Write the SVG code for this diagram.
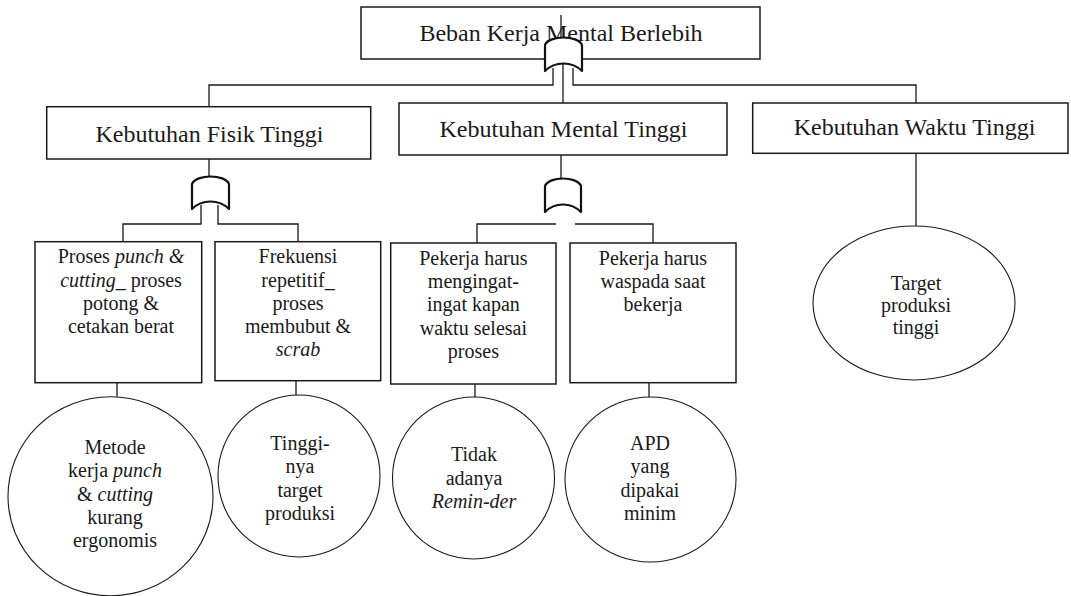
<svg xmlns="http://www.w3.org/2000/svg" width="1071" height="596" viewBox="0 0 1071 596" font-family="Liberation Serif, Tinos, Times New Roman, DejaVu Serif, Noto Serif, serif">
<style>
.box{fill:#fff;stroke:#1a1a1a;stroke-width:1.5}
.circ{fill:#fff;stroke:#1a1a1a;stroke-width:1.1}
.gate{fill:#fff;stroke:#111;stroke-width:2.2;stroke-linejoin:round}
.ln{fill:none;stroke:#1a1a1a;stroke-width:1.3}
.h{font-size:24px;fill:#1a1a1a;text-anchor:middle}
.t{font-size:20px;fill:#1a1a1a;text-anchor:middle}
.i{font-style:italic}
</style>
<rect width="1071" height="596" fill="#fff"/>
<g id="connectors">
<path class="ln" d="M561,15 V40"/>
<path class="ln" d="M563,64 V103"/>
<path class="ln" d="M553,68 V85 H209 V106.7"/>
<path class="ln" d="M573,68 V85 H916 V103"/>
<path class="ln" d="M209,159 V180"/>
<path class="ln" d="M201,205 V224 H123 V241.7"/>
<path class="ln" d="M218,205 V224 H298 V241.7"/>
<path class="ln" d="M561,155 V181"/>
<path class="ln" d="M556,224 H477 V243"/>
<path class="ln" d="M575,224 H653 V243"/>
<path class="ln" d="M117,382.7 V396.8"/>
<path class="ln" d="M296,380.7 V395.2"/>
<path class="ln" d="M475,384 V397.1"/>
<path class="ln" d="M649,382.7 V397"/>
<path class="ln" d="M916,153.3 V226.1"/>
</g>
<g id="n-title">
<rect class="box" x="361" y="7" width="399" height="52"/>
<text class="h" x="561" y="40.7">Beban Kerja Mental Berlebih</text>
</g>
<g id="gate-top">
<path class="gate" d="M545,71 V45 C549,35 578,35 582,45 V71 C572,61 555,61 545,71 Z"/>
<path class="ln" d="M561,37 V15"/>
</g>
<g id="n-fisik">
<rect class="box" x="46.7" y="106.7" width="324" height="52.3"/>
<text class="h" x="209.5" y="141.7">Kebutuhan Fisik Tinggi</text>
</g>
<g id="n-mental">
<rect class="box" x="399" y="103" width="328" height="52"/>
<text class="h" x="563.5" y="136.7">Kebutuhan Mental Tinggi</text>
</g>
<g id="n-waktu">
<rect class="box" x="752.7" y="103" width="315.3" height="50.3"/>
<text class="h" x="914.5" y="135">Kebutuhan Waktu Tinggi</text>
</g>
<g id="gate-fisik">
<path class="gate" d="M192,209 V184 C196,174 225,174 229,184 V209 C219,199 202,199 192,209 Z"/>
</g>
<g id="gate-mental">
<path class="gate" d="M545,212 V186 C549,176 577,176 581,186 V212 C571,202 555,202 545,212 Z"/>
</g>
<g id="n-box1">
<rect class="box" x="35" y="241.7" width="166.7" height="141"/>
<text class="t" x="121" y="263.3">Proses <tspan class="i">punch &amp;</tspan></text>
<text class="t" x="121" y="286.5"><tspan class="i">cutting</tspan>_ proses</text>
<text class="t" x="121" y="309.7">potong &amp;</text>
<text class="t" x="121" y="332.5">cetakan berat</text>
</g>
<g id="n-box2">
<rect class="box" x="215" y="241.7" width="165.7" height="139"/>
<text class="t" x="298" y="263.3">Frekuensi</text>
<text class="t" x="298" y="286.5">repetitif_</text>
<text class="t" x="298" y="309.7">proses</text>
<text class="t" x="298" y="332.9">membubut &amp;</text>
<text class="t i" x="298" y="356">scrab</text>
</g>
<g id="n-box3">
<rect class="box" x="390.7" y="243" width="165.3" height="141"/>
<text class="t" x="473.4" y="265">Pekerja harus</text>
<text class="t" x="473.4" y="288.2">mengingat-</text>
<text class="t" x="473.4" y="311.4">ingat kapan</text>
<text class="t" x="473.4" y="334.6">waktu selesai</text>
<text class="t" x="473.4" y="357.8">proses</text>
</g>
<g id="n-box4">
<rect class="box" x="570" y="243" width="166" height="139.7"/>
<text class="t" x="653" y="265">Pekerja harus</text>
<text class="t" x="653" y="288.2">waspada saat</text>
<text class="t" x="653" y="311.4">bekerja</text>
</g>
<g id="n-circ1">
<ellipse class="circ" cx="110.5" cy="496.3" rx="102.5" ry="99.5"/>
<text class="t" x="115" y="454">Metode</text>
<text class="t" x="115" y="477">kerja <tspan class="i">punch</tspan></text>
<text class="t" x="115" y="500.5">&amp; <tspan class="i">cutting</tspan></text>
<text class="t" x="115" y="523.7">kurang</text>
<text class="t" x="115" y="547">ergonomis</text>
</g>
<g id="n-circ2">
<ellipse class="circ" cx="299" cy="476" rx="81" ry="81"/>
<text class="t" x="300" y="450">Tinggi-</text>
<text class="t" x="300" y="473.3">nya</text>
<text class="t" x="300" y="496.6">target</text>
<text class="t" x="300" y="520">produksi</text>
</g>
<g id="n-circ3">
<ellipse class="circ" cx="473.5" cy="478" rx="81" ry="81"/>
<text class="t" x="474" y="461">Tidak</text>
<text class="t" x="474" y="484.5">adanya</text>
<text class="t i" x="474" y="508">Remin-der</text>
</g>
<g id="n-circ4">
<ellipse class="circ" cx="650.5" cy="479.5" rx="85.5" ry="82.5"/>
<text class="t" x="650" y="450">APD</text>
<text class="t" x="650" y="473.3">yang</text>
<text class="t" x="650" y="496.7">dipakai</text>
<text class="t" x="650" y="520.4">minim</text>
</g>
<g id="n-target">
<ellipse class="circ" cx="914" cy="303" rx="101" ry="77"/>
<text class="t" x="916" y="290">Target</text>
<text class="t" x="916" y="311.5">produksi</text>
<text class="t" x="916" y="334">tinggi</text>
</g>
</svg>
